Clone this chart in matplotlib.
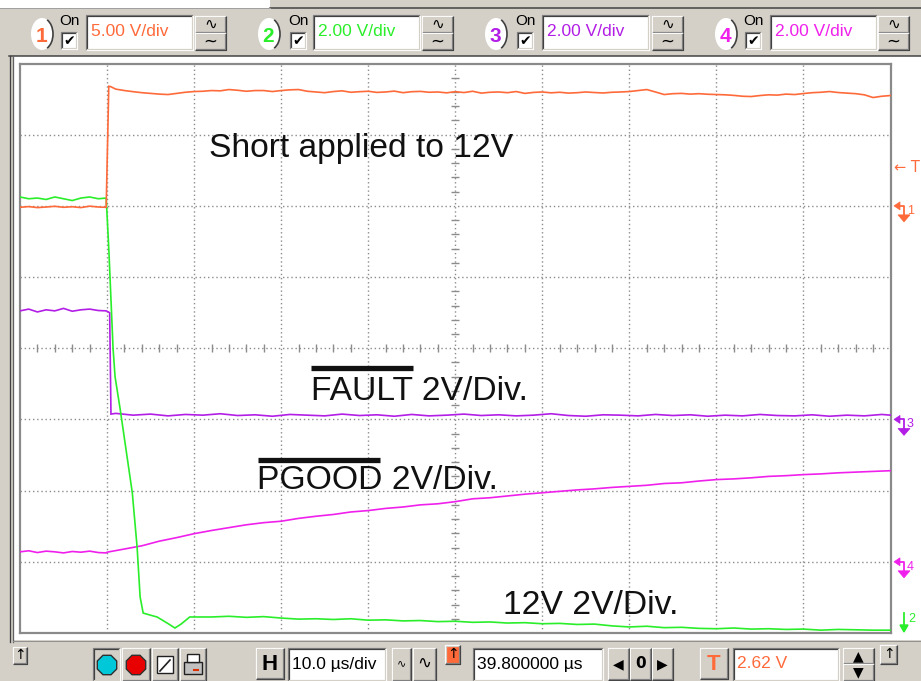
import matplotlib
matplotlib.use('Agg')
import matplotlib.pyplot as plt
import numpy as np
from matplotlib.patches import Rectangle, Ellipse, Polygon, RegularPolygon, Arc

plt.rcParams['font.family'] = ['Liberation Sans', 'DejaVu Sans']

# ---------------- data (volts vs. microseconds) ----------------
t_pre = [-10, -9, -8, -7, -6, -5, -4, -3, -2, -1, -0.1]

ch1_pre = [-0.10, -0.05, -0.12, -0.08, -0.03, -0.10, -0.06, -0.12, -0.02, -0.08, -0.10]
ch1_t_post = [0.2, 0.4] + list(range(1, 91))
ch1_post = [8.40, 8.38,
            8.20, 8.10, 8.02, 7.95, 7.90, 7.85, 7.82, 7.90, 7.98, 8.03,
            8.05, 8.10, 8.08, 8.17, 8.12, 8.05, 8.10, 8.10, 8.03, 8.10,
            8.15, 8.17, 8.05, 8.00, 7.95, 8.03, 8.08, 7.98, 8.02, 8.05,
            7.97, 8.00, 8.06, 7.95, 8.02, 8.04, 7.98, 8.00, 7.94, 8.02,
            7.96, 8.05, 7.92, 7.98, 8.00, 7.95, 8.03, 7.90, 7.97, 8.00,
            7.94, 7.98, 7.92, 7.95, 8.00, 7.96, 7.93, 7.98, 8.00, 8.03,
            8.10, 8.17, 8.00, 7.82, 7.88, 7.90, 7.85, 7.88, 7.84, 7.82,
            7.80, 7.76, 7.70, 7.68, 7.75, 7.80, 7.78, 7.85, 7.82, 7.89,
            7.95, 7.98, 8.03, 7.96, 7.92, 7.88, 7.80, 7.61, 7.70, 7.75]

ch2_pre = [12.25, 12.20, 12.22, 12.18, 12.25, 12.20, 12.15, 12.22, 12.25, 12.20, 12.22]
ch2_t_fall = [0.2, 0.34, 0.69, 0.92, 1.5, 2.9, 3.45, 3.8, 4.15, 5.0, 5.75, 6.9, 7.8, 8.5, 9.5]
ch2_fall = [10.8, 10.0, 8.0, 7.2, 6.3, 3.94, 2.42, 1.01, 0.56, 0.50, 0.45, 0.28, 0.14, 0.25, 0.45]
ch2_t_tail = list(range(10, 91, 2))
ch2_tail = [0.45, 0.45, 0.47, 0.44, 0.46, 0.42, 0.39, 0.40, 0.38, 0.40,
            0.36, 0.37, 0.34, 0.35, 0.32, 0.33, 0.30, 0.31, 0.28, 0.29,
            0.26, 0.27, 0.24, 0.25, 0.20, 0.17, 0.19, 0.15, 0.16, 0.13,
            0.12, 0.14, 0.11, 0.12, 0.10, 0.11, 0.08, 0.10, 0.09, 0.08, 0.08]

ch3_pre = [3.05, 3.10, 3.02, 3.08, 3.05, 3.12, 3.04, 3.08, 3.10, 3.06, 3.05]
ch3_t_post = [0.3, 0.45] + list(range(1, 90, 2)) + [90]
ch3_post = [3.00, 0.15,
            0.17, 0.12, 0.15, 0.10, 0.14, 0.12, 0.16, 0.11, 0.13, 0.09,
            0.14, 0.12, 0.10, 0.15, 0.11, 0.13, 0.09, 0.14, 0.10, 0.12,
            0.15, 0.11, 0.13, 0.10, 0.12, 0.16, 0.11, 0.09, 0.13, 0.12,
            0.10, 0.14, 0.11, 0.13, 0.09, 0.12, 0.10, 0.14, 0.11, 0.10,
            0.13, 0.09, 0.12, 0.10, 0.14,
            0.12]

ch4_pre = [0.28, 0.31, 0.26, 0.30, 0.28, 0.25, 0.29, 0.27, 0.30, 0.26, 0.25]
ch4_t_post = list(range(0, 91, 2))
ch4_post = [0.27, 0.36, 0.45, 0.58, 0.68, 0.79, 0.88, 0.96, 1.04, 1.10,
            1.14, 1.22, 1.28, 1.33, 1.40, 1.44, 1.50, 1.54, 1.60, 1.63,
            1.69, 1.77, 1.80, 1.85, 1.90, 1.94, 1.98, 2.02, 2.05, 2.09,
            2.12, 2.15, 2.20, 2.22, 2.27, 2.31, 2.33, 2.36, 2.40, 2.42,
            2.45, 2.47, 2.50, 2.52, 2.54, 2.56]

ch_labels = ['1', '2', '3', '4']
ch_vdiv_text = ['5.00 V/div', '2.00 V/div', '2.00 V/div', '2.00 V/div']
timebase_text = '10.0 \u00b5s/div'
delay_text = '39.800000 \u00b5s'
trig_text = '2.62 V'
annotations = ['Short applied to 12V', 'FAULT 2V/Div.', 'PGOOD 2V/Div.', '12V 2V/Div.']

# ---------------- channel settings ----------------
ch_scale = [5.0, 2.0, 2.0, 2.0]        # V/div
ch_ground = [6.0, 0.0, 3.0, 1.0]       # ground level in divisions from bottom
ch_color = ['#ff6a3a', '#2aee2a', '#b21ee6', '#f020ec']
UI = '#d4d0c8'

W, H = 921, 681
fig = plt.figure(figsize=(W / 100, H / 100), dpi=100)

# background overlay in pixel coordinates
bg = fig.add_axes([0, 0, 1, 1], zorder=0)
bg.set_xlim(0, W); bg.set_ylim(H, 0); bg.axis('off')
fg = fig.add_axes([0, 0, 1, 1], zorder=3)
fg.set_xlim(0, W); fg.set_ylim(H, 0); fg.axis('off'); fg.patch.set_alpha(0)

PX = 0.72  # one pixel in points


def rect(ax, x0, y0, x1, y1, fc, ec='none', lw=0, z=1):
    ax.add_patch(Rectangle((x0, y0), x1 - x0, y1 - y0, facecolor=fc, edgecolor=ec, lw=lw, zorder=z))


def bevel(ax, x0, y0, x1, y1, sunken=False, face=UI):
    rect(ax, x0, y0, x1, y1, face)
    if sunken:
        c_tl, c_tl2, c_br, c_br2 = '#808080', '#404040', '#ffffff', UI
    else:
        c_tl, c_tl2, c_br, c_br2 = '#ffffff', UI, '#404040', '#808080'
    ax.plot([x0, x0, x1], [y1, y0, y0], color=c_tl, lw=PX * 1.2, solid_capstyle='butt', zorder=2)
    ax.plot([x0 + 1, x0 + 1, x1 - 1], [y1 - 1, y0 + 1, y0 + 1], color=c_tl2, lw=PX * 1.2, zorder=2)
    ax.plot([x0, x1, x1], [y1, y1, y0], color=c_br, lw=PX * 1.2, solid_capstyle='butt', zorder=2)
    ax.plot([x0 + 1, x1 - 1, x1 - 1], [y1 - 1, y1 - 1, y0 + 1], color=c_br2, lw=PX * 1.2, zorder=2)


# whole window
rect(bg, 0, 0, W, H, UI, z=0)
rect(bg, 0, 0, 270, 8, '#ffffff')
bg.plot([270, W], [8, 8], color='#404040', lw=PX * 1.5)
bg.plot([0, 270], [8, 8], color='#a0a0a0', lw=PX)

# ---------------- top toolbar ----------------
circ_x = [42, 269, 496, 726]
chk_x = [61, 290, 517, 745]
box_x = [86, 313, 542, 770]
btn_x = [195, 422, 652, 878]
for i in range(4):
    bg.add_patch(Ellipse((circ_x[i], 34), 22, 32, facecolor='#ffffff', edgecolor='none', zorder=2))
    bg.add_patch(Arc((circ_x[i], 34), 22, 32, theta1=-70, theta2=70, color='#404040', lw=1.2, zorder=3))
    bg.text(circ_x[i] - 1, 36, ch_labels[i], color=ch_color[i], fontsize=15, fontweight='bold',
            ha='center', va='center', zorder=4)
    bg.text(chk_x[i] + 8, 21, 'On', fontsize=11, ha='center', va='center', color='#000000', zorder=4)
    bevel(bg, chk_x[i], 32, chk_x[i] + 16, 49, sunken=True, face='#ffffff')
    bg.text(chk_x[i] + 8, 41, '\u2714', fontsize=10, ha='center', va='center', color='#000000',
            family='DejaVu Sans', zorder=4)
    bevel(bg, box_x[i], 15, box_x[i] + 107, 50, sunken=True, face='#ffffff')
    bg.text(box_x[i] + 5, 32, ch_vdiv_text[i], color=ch_color[i], fontsize=12.5, ha='left', va='center', zorder=4)
    bevel(bg, btn_x[i], 16, btn_x[i] + 31, 33)
    bevel(bg, btn_x[i], 33, btn_x[i] + 31, 50)
    bg.text(btn_x[i] + 15.5, 24, '\u223f', fontsize=11, ha='center', va='center', family='DejaVu Sans', zorder=4)
    bg.text(btn_x[i] + 15.5, 42, '~', fontsize=12, ha='center', va='center', family='DejaVu Sans', zorder=4)

# ---------------- main panel ----------------
rect(bg, 13, 56, W, 640, '#ffffff')
bg.plot([9, W], [56, 56], color='#404040', lw=PX * 1.5)
bg.plot([9.5, 9.5], [56, 642], color='#404040', lw=PX * 1.3)
bg.plot([12.5, 12.5], [56, 642], color='#606060', lw=PX * 1.3)
bg.plot([13, W], [641, 641], color='#909090', lw=PX)

# ---------------- bottom toolbar ----------------
bevel(bg, 13, 647, 27, 664)
bg.text(20, 655, '\u2191', fontsize=10, ha='center', va='center', family='DejaVu Sans', zorder=4)
bevel(bg, 93, 648, 120, 681, sunken=True)
bg.add_patch(RegularPolygon((107, 665), 8, radius=10.5, orientation=np.pi / 8, facecolor='#00c8d8',
                            edgecolor='#303030', lw=1, zorder=3))
bevel(bg, 122, 648, 150, 681)
bg.add_patch(RegularPolygon((136, 665), 8, radius=10.5, orientation=np.pi / 8, facecolor='#e80000',
                            edgecolor='#303030', lw=1, zorder=3))
bevel(bg, 152, 648, 178, 681)
rect(bg, 157, 656, 173, 673, '#ffffff', ec='#202020', lw=1, z=3)
bg.plot([160, 170], [671, 660], color='#202020', lw=1.2, zorder=4)
bevel(bg, 180, 648, 206, 681)
rect(bg, 184, 662, 202, 674, '#c0c0c0', ec='#202020', lw=1, z=3)
rect(bg, 187, 654, 199, 662, '#ffffff', ec='#202020', lw=1, z=3)
bg.plot([194, 198], [670, 670], color='#e03000', lw=1.5, zorder=4)

bevel(bg, 256, 648, 284, 679)
bg.text(270, 664, 'H', fontsize=16, fontweight='bold', ha='center', va='center', zorder=4)
bevel(bg, 288, 648, 386, 681, sunken=True, face='#ffffff')
bg.text(292, 664, timebase_text, fontsize=12.5, ha='left', va='center', zorder=4)
bevel(bg, 392, 648, 411, 681)
bg.text(401.5, 663, '\u223f', fontsize=8, ha='center', va='center', family='DejaVu Sans', zorder=4)
bevel(bg, 413, 648, 436, 681)
bg.text(424.5, 663, '\u223f', fontsize=12, ha='center', va='center', family='DejaVu Sans', zorder=4)
bevel(bg, 445, 645, 460, 664, face='#ff6a3a')
bg.text(452.5, 654, '\u2191', fontsize=10, ha='center', va='center', family='DejaVu Sans', zorder=4)
bevel(bg, 473, 648, 603, 681, sunken=True, face='#ffffff')
bg.text(477, 664, delay_text, fontsize=12.5, ha='left', va='center', zorder=4)
for bx, sym in zip([608, 630, 652], ['\u25c0', '0', '\u25b6']):
    bevel(bg, bx, 648, bx + 21, 680)
    bg.text(bx + 10.5, 664, sym, fontsize=11 if sym == '0' else 10, fontweight='bold',
            ha='center', va='center', family='DejaVu Sans', zorder=4)
bevel(bg, 700, 648, 728, 679)
bg.text(714, 664, 'T', fontsize=16, fontweight='bold', color=ch_color[0], ha='center', va='center', zorder=4)
bevel(bg, 733, 648, 839, 681, sunken=True, face='#ffffff')
bg.text(737, 664, trig_text, fontsize=12.5, color=ch_color[0], ha='left', va='center', zorder=4)
bevel(bg, 843, 648, 874, 664)
bevel(bg, 843, 664, 874, 681)
bg.text(858.5, 656, '\u25b2', fontsize=10, ha='center', va='center', family='DejaVu Sans', zorder=4)
bg.text(858.5, 672, '\u25bc', fontsize=10, ha='center', va='center', family='DejaVu Sans', zorder=4)
bevel(bg, 880, 645, 897, 664)
bg.text(888.5, 654, '\u2191', fontsize=10, ha='center', va='center', family='DejaVu Sans', zorder=4)

# ---------------- right-side channel markers ----------------
bg.text(894, 168, '\u2190 T', color=ch_color[0], fontsize=10.5, ha='left', va='center', family='DejaVu Sans', zorder=4)


def gnd_marker(y, color, label):
    bg.add_patch(Polygon([(894, y), (900, y - 4), (900, y + 4)], closed=True, fc=color, ec=color, lw=0.5, zorder=4))
    bg.plot([899, 904, 904], [y, y, y + 10], color=color, lw=PX * 1.8, zorder=4)
    bg.add_patch(Polygon([(898, y + 9), (910, y + 9), (904, y + 16)], closed=True, fc=color, ec=color, lw=0.5, zorder=4))
    bg.text(907, y + 5, label, color=color, fontsize=9, ha='left', va='center', zorder=4)


# ---------------- scope screen ----------------
y_top, y_bot, x_l, x_r = 63.5, 633.0, 20.0, 890.5
ax = fig.add_axes([x_l / W, (H - y_bot) / H, (x_r - x_l) / W, (y_bot - y_top) / H], zorder=1)
ax.set_facecolor('#ffffff')
ax.set_xlim(-10, 90)
ax.set_ylim(0, 8)
ax.set_xticks([]); ax.set_yticks([])
for s in ax.spines.values():
    s.set_color('#8a8a8a'); s.set_linewidth(1.6)

for i, lab in [(0, '1'), (2, '3'), (3, '4')]:
    yy = y_bot - ch_ground[i] / 8 * (y_bot - y_top)
    gnd_marker(yy, ch_color[i], lab)
bg.plot([904, 904], [613, 630], color=ch_color[1], lw=PX * 1.8, zorder=4)
bg.add_patch(Polygon([(900, 625), (908, 625), (904, 632)], closed=True, fc=ch_color[1], ec=ch_color[1], zorder=4))
bg.text(908, 619, '2', color=ch_color[1], fontsize=9, ha='left', va='center', zorder=4)

# graticule
grid_kw = dict(color='#8c8c8c', lw=1.0, linestyle=(0, (1, 2)), zorder=1)
for xv in range(0, 90, 10):
    ax.axvline(xv, **grid_kw)
for yv in range(1, 8):
    ax.axhline(yv, **grid_kw)
minor_x = [v / 10 for v in range(-100, 901, 20) if v % 100 != 0]
minor_y = [v / 10 for v in range(0, 81, 2) if v % 10 != 0]
ax.plot(minor_x, [4] * len(minor_x), ls='none', marker='|', ms=6, mew=1.0, color='#8c8c8c', zorder=1)
ax.plot([40] * len(minor_y), minor_y, ls='none', marker='_', ms=6, mew=1.0, color='#8c8c8c', zorder=1)


def to_div(vals, i):
    return np.asarray(vals, dtype=float) / ch_scale[i] + ch_ground[i]


tr_kw = dict(lw=1.2, solid_joinstyle='miter', zorder=3)
ax.plot(t_pre + ch3_t_post, to_div(ch3_pre + ch3_post, 2), color=ch_color[2], **tr_kw)
ax.plot(t_pre + ch4_t_post, to_div(ch4_pre + ch4_post, 3), color=ch_color[3], **tr_kw)
ax.plot(t_pre + ch2_t_fall + ch2_t_tail, to_div(ch2_pre + ch2_fall + ch2_tail, 1), color=ch_color[1], **tr_kw)
ax.plot(t_pre + ch1_t_post, to_div(ch1_pre + ch1_post, 0), color=ch_color[0], **tr_kw)

# ---------------- annotations (pixel positions) ----------------
txt_kw = dict(fontsize=24.2, color='#111111', ha='left', va='baseline', family='Liberation Sans')
fg.text(209, 157, annotations[0], **txt_kw)
fg.text(311, 400, annotations[1], **txt_kw)
fg.text(257, 489, annotations[2], **txt_kw)
fg.text(503, 614, annotations[3], **txt_kw)
fg.plot([311, 413], [367.5, 367.5], color='#111111', lw=3.8, solid_capstyle='butt')
fg.plot([258, 380], [459.5, 459.5], color='#111111', lw=3.8, solid_capstyle='butt')

fig.savefig('out.png', dpi=100)
